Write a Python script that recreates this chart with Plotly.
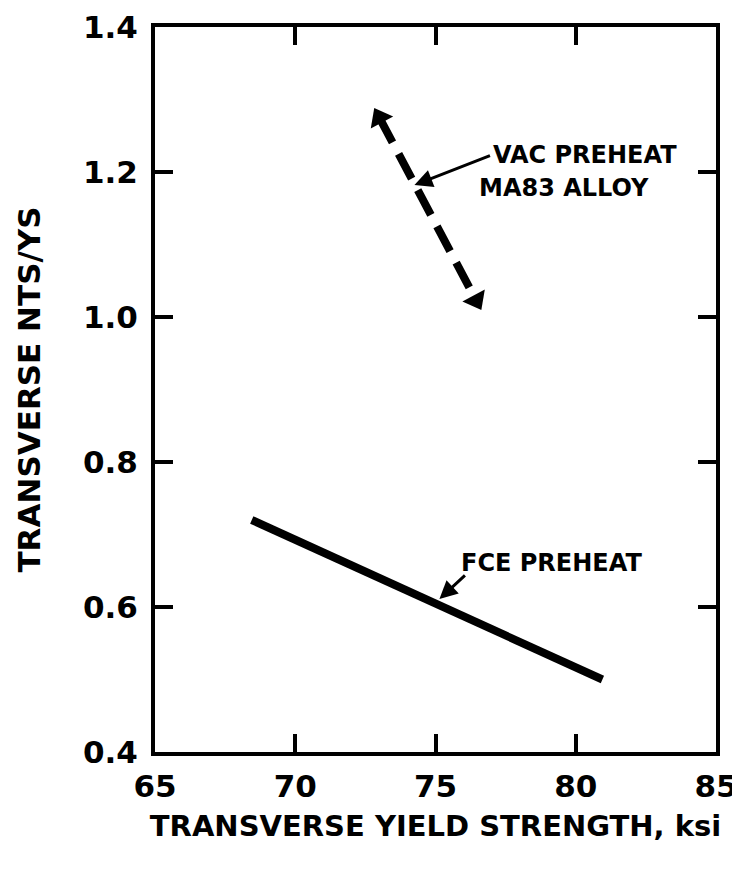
import plotly.graph_objects as go

# --- Data ---
fce_yield = [68.45, 80.95]
fce_ratio = [0.72, 0.50]

vac_yield = [73.0, 76.45]
vac_ratio = [1.275, 1.023]

x_ticks = [65, 70, 75, 80, 85]
x_tick_text = ["65", "70", "75", "80", "85"]
y_ticks = [0.4, 0.6, 0.8, 1.0, 1.2, 1.4]
y_tick_text = ["0.4", "0.6", "0.8", "1.0", "1.2", "1.4"]

vac_label_lines = ["VAC PREHEAT", "MA83 ALLOY"]
fce_label = "FCE PREHEAT"

FONT = "DejaVu Sans"

fig = go.Figure()

fig.add_trace(go.Scatter(
    x=fce_yield, y=fce_ratio, mode="lines",
    line=dict(color="black", width=8),
    showlegend=False, hoverinfo="skip",
))

fig.add_trace(go.Scatter(
    x=vac_yield, y=vac_ratio, mode="lines+markers",
    line=dict(color="black", width=8, dash="28px,13px"),
    marker=dict(symbol="triangle-up", size=22, color="black",
                angle=[-28, 152]),
    showlegend=False, hoverinfo="skip",
))

annotations = [
    # labels
    dict(x=76.99, y=1.223, text=vac_label_lines[0], showarrow=False,
         xanchor="left", yanchor="middle"),
    dict(x=76.49, y=1.178, text=vac_label_lines[1], showarrow=False,
         xanchor="left", yanchor="middle"),
    dict(x=75.85, y=0.661, text=fce_label, showarrow=False,
         xanchor="left", yanchor="middle"),
    # leader arrows
    dict(x=74.25, y=1.182, text="", showarrow=True, ax=77, ay=-30,
         arrowhead=2, arrowsize=1.2, arrowwidth=3, arrowcolor="black"),
    dict(x=75.14, y=0.611, text="", showarrow=True, ax=27, ay=-25,
         arrowhead=2, arrowsize=1.2, arrowwidth=3, arrowcolor="black"),
]
for a in annotations:
    a["font"] = dict(family=FONT, size=24, color="black", weight="bold")
    a["xref"] = "x"
    a["yref"] = "y"

fig.update_layout(
    width=732, height=865,
    margin=dict(l=147, r=24, t=19, b=121),
    paper_bgcolor="white", plot_bgcolor="white",
    annotations=annotations,
    xaxis=dict(
        range=[65, 85], tickvals=x_ticks, ticktext=x_tick_text,
        automargin=False, ticklabeloverflow="allow",
        showgrid=False, zeroline=False,
        showline=True, linecolor="black", linewidth=4, mirror="ticks",
        ticks="inside", ticklen=18, tickwidth=4, tickcolor="black",
        ticklabelstandoff=4,
        tickfont=dict(family=FONT, size=31, color="black", weight="bold"),
        title=dict(text="TRANSVERSE YIELD STRENGTH, ksi", standoff=13,
                   font=dict(family=FONT, size=29, color="black", weight="bold")),
    ),
    yaxis=dict(
        range=[0.4, 1.4], tickvals=y_ticks, ticktext=y_tick_text,
        automargin=False, ticklabeloverflow="allow",
        showgrid=False, zeroline=False,
        showline=True, linecolor="black", linewidth=4, mirror="ticks",
        ticks="inside", ticklen=18, tickwidth=4, tickcolor="black",
        ticklabelstandoff=7,
        tickfont=dict(family=FONT, size=31, color="black", weight="bold"),
        title=dict(text="TRANSVERSE NTS/YS", standoff=34,
                   font=dict(family=FONT, size=31, color="black", weight="bold")),
    ),
)

fig.write_html("out.html")
